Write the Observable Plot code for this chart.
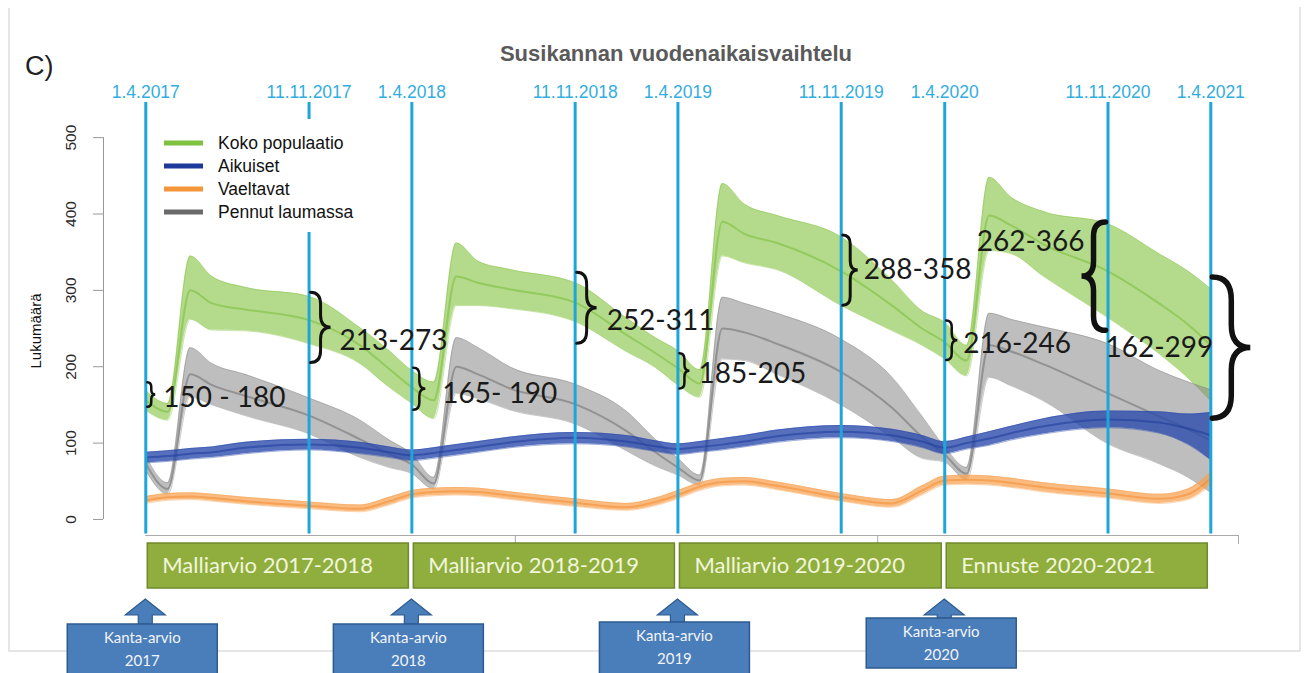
<!DOCTYPE html>
<html><head><meta charset="utf-8">
<script src="https://cdn.jsdelivr.net/npm/d3@7"></script>
<script src="https://cdn.jsdelivr.net/npm/@observablehq/plot@0.6"></script>
<style>
html,body{margin:0;padding:0;background:#fff;overflow:hidden}
#chart{position:relative;width:1306px;height:673px}
</style></head><body><div id="chart"></div>
<script>
// ---------------- DATA ----------------
const gridDates = [
  "2017-04-01","2017-05-01","2017-06-01","2017-07-01","2017-08-15","2017-11-11","2018-01-20","2018-03-01",
  "2018-04-01","2018-05-01","2018-06-01","2018-07-01","2018-08-15","2018-11-11","2019-01-20","2019-03-01",
  "2019-04-01","2019-05-01","2019-06-01","2019-07-01","2019-08-15","2019-11-11","2020-01-20","2020-03-01",
  "2020-04-01","2020-05-01","2020-06-01","2020-07-01","2020-08-15","2020-11-11","2021-01-20","2021-03-01",
  "2021-04-01"];

// Koko populaatio (whole population)
const greenLow  = [143,130,262,248,247,230,204,173, 152,132,280,280,276,259,220,199, 176,160,345,336,327,280,247,228, 210,188,352,348,318,264,217,185, 155];
const greenMid  = [156,141,300,283,275,261,228,197, 173,156,318,310,301,284,242,218, 198,178,390,374,362,325,280,250, 232,208,398,385,360,325,283,255, 228];
const greenHigh = [169,152,345,318,304,292,251,221, 195,180,362,338,327,310,264,238, 221,196,440,413,398,370,313,273, 258,228,448,422,403,387,348,325, 302];

// Pennut laumassa (pups in packs)
const grayLow  = [64,33,160,150,136,112,81,68, 60,40,165,158,143,125,90,70, 58,45,210,208,190,150,107,80, 75,52,186,175,155,99,73,55, 35];
const grayMid  = [73,40,190,176,162,136,105,86, 72,47,200,190,171,151,116,88, 68,51,250,245,230,193,146,108, 85,60,228,220,203,165,135,118, 103];
const grayHigh = [83,48,225,204,190,159,130,104, 86,55,238,225,199,177,142,105, 80,58,291,283,270,236,186,135, 95,68,270,262,252,230,195,180, 170];

// Aikuiset (adults)
const blueLow  = [74,76,79,81,86,91,86,81, 77,80,84,88,94,99,95,89, 85,88,91,95,101,107,102,94, 86,92,97,104,112,120,113,98, 78];
const blueMid  = [81,83,86,88,94,98,94,88, 84,87,91,95,101,107,102,96, 92,95,98,102,109,115,110,102, 94,100,106,113,122,131,127,119, 110];
const blueHigh = [88,90,93,95,101,105,101,95, 91,94,98,102,108,114,110,103, 99,102,106,110,117,123,118,110, 102,108,115,122,132,142,141,138, 140];

// Vaeltavat (dispersers)
const orangeLow  = [21,25,26,24,20,14,10,19, 28,31,32,31,26,17,12,18, 27,38,44,45,39,24,16,32, 45,46,45,42,36,28,21,26, 46];
const orangeMid  = [25,29,30,28,24,18,14,24, 33,36,37,36,31,22,16,23, 32,43,49,50,44,29,21,38, 51,52,51,48,42,34,27,33, 54];
const orangeHigh = [30,34,35,33,29,23,19,29, 38,41,42,41,36,27,21,28, 38,48,54,55,49,34,26,44, 57,58,57,54,48,40,33,40, 62];

// vertical date markers
const lineDates  = ["2017-04-01","2017-11-11","2018-04-01","2018-11-11","2019-04-01","2019-11-11","2020-04-01","2020-11-11","2021-04-01"];
const lineLabels = ["1.4.2017","11.11.2017","1.4.2018","11.11.2018","1.4.2019","11.11.2019","1.4.2020","11.11.2020","1.4.2021"];

// axes
const yTicks = [0,100,200,300,400,500];
const xTicks = ["2018-08-21","2019-12-31","2021-05-09"];
const xDomain = ["2017-02-02","2021-05-09"];
const xAxisStart = "2017-04-01";

// legend
const legendNames  = ["Koko populaatio","Aikuiset","Vaeltavat","Pennut laumassa"];
const legendColors = ["#7fc23f","#1d3a9a","#f5953a","#6a6a6a"];

// range annotations (braces): date, range low/high, label
const braceDates  = lineDates;
const braceLow    = [147,205,143,230,171,280,208,247,132];
const braceHigh   = [179,297,198,323,217,372,260,389,317];
const braceLabels = ["150 - 180","213-273","165- 190","252-311","185-205","288-358","216-246","262-366","162-299"];
const braceLabelY = [160,234,165,260,191,327,230,364,225];

// bottom boxes
const periodStarts = ["2017-04-01","2018-04-01","2019-04-01","2020-04-01"];
const periodEnds   = ["2018-04-01","2019-04-01","2020-04-01","2021-04-01"];
const periodLabels = ["Malliarvio 2017-2018","Malliarvio 2018-2019","Malliarvio 2019-2020","Ennuste 2020-2021"];
const estimateDates = ["2017-04-01","2018-04-01","2019-04-01","2020-04-01"];
const estimateYears = ["2017","2018","2019","2020"];

// ---------------- BUILD ----------------
const D = s => new Date(s + "T00:00:00Z");
function rows(lo, mid, hi) {
  return gridDates.map((d, i) => ({date: D(d), lo: lo[i], mid: mid[i], hi: hi[i]}));
}
const series = [
  {rows: rows(greenLow, greenMid, greenHigh), fill: "#86c443", line: "#78bd38", op: 0.62},
  {rows: rows(grayLow, grayMid, grayHigh), fill: "#888888", line: "#6e6e6e", op: 0.55},
  {rows: rows(blueLow, blueMid, blueHigh), fill: "#2c4cac", line: "#1d3a9a", op: 0.8},
  {rows: rows(orangeLow, orangeMid, orangeHigh), fill: "#f8a150", line: "#f28d30", op: 0.72}
];
const curve = "monotone-x";
const marks = [];
for (const s of series) {
  marks.push(Plot.areaY(s.rows, {x: "date", y1: "lo", y2: "hi", fill: s.fill, fillOpacity: s.op, curve}));
  marks.push(Plot.lineY(s.rows, {x: "date", y: "lo", stroke: s.fill, strokeOpacity: 0.45, strokeWidth: 1, curve}));
  marks.push(Plot.lineY(s.rows, {x: "date", y: "hi", stroke: s.fill, strokeOpacity: 0.45, strokeWidth: 1, curve}));
  marks.push(Plot.lineY(s.rows, {x: "date", y: "mid", stroke: s.line, strokeOpacity: 0.55, strokeWidth: 2, curve}));
}
const lineRows = lineDates.map((d, i) => ({date: D(d), label: lineLabels[i]}));
const font = "Liberation Sans, Arial, sans-serif";

const chart = Plot.plot({
  width: 1306, height: 673,
  marginLeft: 103, marginRight: 68, marginTop: 102, marginBottom: 138,
  style: {background: "transparent"},
  x: {type: "utc", domain: xDomain.map(D), axis: null},
  y: {domain: [-21, 546]},
  marks: [
    Plot.axisY({ticks: yTicks, tickSize: 10, tickFormat: () => "", stroke: "#999", label: null}),
    Plot.ruleX([D(xDomain[0])], {y1: 0, y2: 500, stroke: "#999"}),
    Plot.text(yTicks, {x: () => D(xDomain[0]), y: d => d, text: d => String(d), rotate: -90, dx: -32,
      fontSize: 15.5, fill: "#2a2a2a", fontFamily: font}),
    Plot.ruleY([-21], {x1: D(xAxisStart), x2: D(xDomain[1]), stroke: "#aaa"}),
    Plot.axisX({ticks: xTicks.map(D), tickSize: 9, tickFormat: () => "", stroke: "#aaa", label: null, anchor: "bottom"}),
    ...marks,
    Plot.ruleX(lineRows, {x: "date", y1: -19, y2: 546, stroke: "#1ea6da", strokeWidth: 3}),
    Plot.text(lineRows, {x: "date", y: 546, text: "label", dy: -5, lineAnchor: "bottom",
      fill: "#33ade0", fontSize: 17.5, fontFamily: font})
  ]
});
document.getElementById("chart").appendChild(chart);

// ---------------- ANNOTATIONS (using Plot scales) ----------------
const sx = chart.scale("x"), sy = chart.scale("y");
const xs = sx.apply ? (d => sx.apply(d)) : d3.scaleUtc(sx.domain, sx.range);
const ys = sy.apply ? (v => sy.apply(v)) : d3.scaleLinear(sy.domain, sy.range);
const svg = d3.select(chart);

// frame
svg.insert("path", ":first-child")
  .attr("d", "M9,8 V651 H1300 V7")
  .attr("fill", "none").attr("stroke", "#dedede").attr("stroke-width", 1.5);

// title & labels
svg.append("text").attr("x", 676).attr("y", 61).attr("text-anchor", "middle")
  .attr("font-family", font).attr("font-weight", "bold").attr("font-size", 22).attr("fill", "#5a5a5a")
  .text("Susikannan vuodenaikaisvaihtelu");
svg.append("text").attr("x", 25).attr("y", 75).attr("text-anchor", "start")
  .attr("font-family", font).attr("font-size", 27).attr("fill", "#222").text("C)");
svg.append("text").attr("transform", "translate(41,331) rotate(-90)").attr("text-anchor", "middle")
  .attr("font-family", font).attr("font-size", 15).attr("fill", "#111").text("Lukumäärä");

// legend
const lg = svg.append("g");
lg.append("rect").attr("x", 156).attr("y", 119).attr("width", 244).attr("height", 113).attr("fill", "#fff");
legendNames.forEach((name, i) => {
  const yy = 143 + i * 23;
  lg.append("line").attr("x1", 164).attr("x2", 203).attr("y1", yy).attr("y2", yy)
    .attr("stroke", legendColors[i]).attr("stroke-width", 5);
  lg.append("text").attr("x", 218).attr("y", yy + 6).attr("text-anchor", "start")
    .attr("font-family", font).attr("font-size", 17.5).attr("fill", "#111").text(name);
});

// braces
const braceStyle = [
  {w: 8, dir: 1, sw: 2.5, dx: 18, anchor: "start"},
  {w: 20, dir: 1, sw: 3, dx: 31, anchor: "start"},
  {w: 12, dir: 1, sw: 2.5, dx: 31, anchor: "start"},
  {w: 20, dir: 1, sw: 3, dx: 32, anchor: "start"},
  {w: 10, dir: 1, sw: 2.5, dx: 21, anchor: "start"},
  {w: 15, dir: 1, sw: 3, dx: 23, anchor: "start"},
  {w: 11, dir: 1, sw: 2.5, dx: 19, anchor: "start"},
  {w: 24, dir: -1, sw: 5.5, dx: -23, anchor: "end"},
  {w: 38, dir: 1, sw: 5.5, dx: 3, anchor: "end"}
];
function bracePath(x0, yTop, yBot, w, dir) {
  const xm = x0 + dir * w * 0.5, xt = x0 + dir * w, ym = (yTop + yBot) / 2;
  const r = Math.min(w * 0.6, (yBot - yTop) / 4);
  return `M${x0},${yTop} Q${xm},${yTop} ${xm},${yTop + r} L${xm},${ym - r} Q${xm},${ym} ${xt},${ym}` +
         ` Q${xm},${ym} ${xm},${ym + r} L${xm},${yBot - r} Q${xm},${yBot} ${x0},${yBot}`;
}
braceDates.forEach((d, i) => {
  const st = braceStyle[i];
  const x0 = xs(D(d)) + st.dir * 2;
  svg.append("path").attr("d", bracePath(x0, ys(braceHigh[i]), ys(braceLow[i]), st.w, st.dir))
    .attr("fill", "none").attr("stroke", "#111").attr("stroke-width", st.sw).attr("stroke-linecap", "round");
  svg.append("text").attr("x", xs(D(d)) + st.dx).attr("y", ys(braceLabelY[i])).attr("dy", "0.36em")
    .attr("text-anchor", st.anchor).attr("font-family", "Lato, sans-serif").attr("font-size", 28)
    .attr("fill", "#1a1a1a").text(braceLabels[i]);
});

// period boxes
periodStarts.forEach((d, i) => {
  const x1 = xs(D(d)) + 2, x2 = xs(D(periodEnds[i])) - 3;
  svg.append("rect").attr("x", x1).attr("y", 543).attr("width", x2 - x1).attr("height", 45)
    .attr("fill", "#90ae3e").attr("stroke", "#6e8b2c").attr("stroke-width", 1.5);
  svg.append("text").attr("x", x1 + 15).attr("y", 573).attr("text-anchor", "start")
    .attr("font-family", "Lato, sans-serif").attr("font-size", 22).attr("fill", "#f1f6dc").text(periodLabels[i]);
});

// estimate arrows + boxes
const boxTops = [624, 624, 622, 618];
estimateDates.forEach((d, i) => {
  const cx = xs(D(d));
  const top = boxTops[i];
  svg.append("path")
    .attr("d", `M${cx},599 L${cx + 20},615 L${cx + 7},615 L${cx + 7},${top} L${cx - 7},${top} L${cx - 7},615 L${cx - 20},615 Z`)
    .attr("fill", "#4a7ebb").attr("stroke", "#2d5b90").attr("stroke-width", 1.2);
  const bx = cx - 3 - 75;
  svg.append("rect").attr("x", bx).attr("y", top).attr("width", 150).attr("height", i === 3 ? 50 : 60)
    .attr("fill", "#4a7ebb").attr("stroke", "#2d5b90").attr("stroke-width", 1.5);
  svg.append("text").attr("x", bx + 75).attr("y", top + 19).attr("text-anchor", "middle")
    .attr("font-family", "Lato, sans-serif").attr("font-size", 15).attr("fill", "#f2f4f8").text("Kanta-arvio");
  svg.append("text").attr("x", bx + 75).attr("y", top + 42).attr("text-anchor", "middle")
    .attr("font-family", "Lato, sans-serif").attr("font-size", 15).attr("fill", "#f2f4f8").text(estimateYears[i]);
});
</script>
</body></html>
